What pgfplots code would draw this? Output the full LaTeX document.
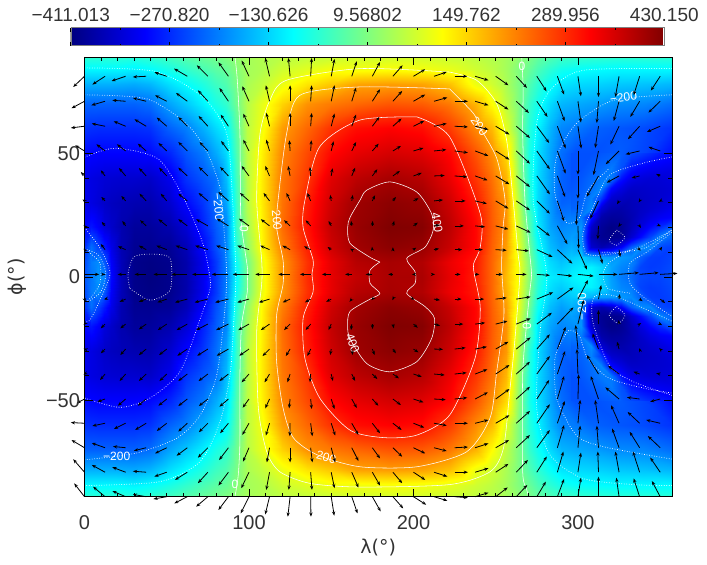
\documentclass[border=0pt]{standalone}
\usepackage{fontspec}
\setmainfont{Liberation Sans}
\newfontfamily\symb{DejaVu Sans}
\usepackage{pgfplots}
\usepackage{pgfplotstable}
\pgfplotsset{compat=1.18}
\usetikzlibrary{arrows.meta}
\pgfplotsset{colormap={idljet}{rgb255(0pt)=(0,0,128); rgb255(1pt)=(0,0,255); rgb255(3pt)=(0,255,255); rgb255(5pt)=(255,255,0); rgb255(7pt)=(255,0,0); rgb255(8pt)=(128,0,0)}}
\pgfplotstableread{
lon lat t
0 88.9 -60
0 84 -100
0 78 -160
0 70 -225
0 60 -265
0 50 -298
0 40 -320
0 30 -320
0 20 -300
0 12 -270
0 6 -250
0 0 -240
4 88.9 -60
4 84 -100
4 78 -160
4 70 -225
4 60 -268
4 50 -302
4 40 -330
4 30 -330
4 20 -290
4 12 -215
4 6 -205
4 0 -210
8 88.9 -60
8 84 -100
8 78 -160
8 70 -225
8 60 -270
8 50 -305
8 40 -335
8 30 -340
8 20 -310
8 12 -250
8 6 -190
8 0 -180
12 88.9 -60
12 84 -100
12 78 -160
12 70 -225
12 60 -270
12 50 -305
12 40 -340
12 30 -350
12 20 -335
12 12 -285
12 6 -230
12 0 -195
16 88.9 -60
16 84 -100
16 78 -160
16 70 -225
16 60 -270
16 50 -305
16 40 -342
16 30 -358
16 20 -350
16 12 -325
16 6 -310
16 0 -300
22 88.9 -60
22 84 -100
22 78 -162
22 70 -225
22 60 -270
22 50 -305
22 40 -345
22 30 -365
22 20 -372
22 12 -370
22 6 -365
22 0 -365
30 88.9 -65
30 84 -105
30 78 -165
30 70 -225
30 60 -270
30 50 -305
30 40 -345
30 30 -370
30 20 -388
30 12 -395
30 6 -402
30 0 -402
40 88.9 -55
40 84 -95
40 78 -155
40 70 -215
40 60 -265
40 50 -300
40 40 -350
40 30 -372
40 20 -388
40 12 -397
40 6 -407
40 0 -410
52 88.9 -40
52 84 -75
52 78 -120
52 70 -170
52 60 -225
52 50 -275
52 40 -320
52 30 -345
52 20 -372
52 12 -392
52 6 -400
52 0 -400
62 88.9 -25
62 84 -55
62 78 -95
62 70 -140
62 60 -200
62 50 -235
62 40 -265
62 30 -302
62 20 -340
62 12 -365
62 6 -375
62 0 -375
72 88.9 -10
72 84 -35
72 78 -70
72 70 -105
72 60 -160
72 50 -205
72 40 -235
72 30 -262
72 20 -280
72 12 -305
72 6 -320
72 0 -320
80 88.9 0
80 84 -20
80 78 -45
80 70 -75
80 60 -125
80 50 -165
80 40 -210
80 30 -215
80 20 -230
80 12 -240
80 6 -260
80 0 -260
86 88.9 10
86 84 -10
86 78 -30
86 70 -55
86 60 -100
86 50 -125
86 40 -150
86 30 -170
86 20 -195
86 12 -195
86 6 -200
86 0 -205
92 88.9 25
92 84 15
92 78 5
92 70 -5
92 60 -25
92 50 -35
92 40 -45
92 30 -55
92 20 -55
92 12 -70
92 6 -90
92 0 -100
99 88.9 40
99 84 40
99 78 45
99 70 55
99 60 60
99 50 60
99 40 55
99 30 55
99 20 40
99 12 25
99 6 0
99 0 0
108 88.9 50
108 84 50
108 78 65
108 70 95
108 60 105
108 50 125
108 40 130
108 30 130
108 20 125
108 12 120
108 6 100
108 0 100
120 88.9 60
120 84 75
120 78 100
120 70 150
120 60 195
120 50 215
120 40 225
120 30 230
120 20 235
120 12 220
120 6 200
120 0 200
135 88.9 65
135 84 90
135 78 135
135 70 205
135 60 240
135 50 265
135 40 280
135 30 302
135 20 310
135 12 300
135 6 285
135 0 290
150 88.9 70
150 84 105
150 78 160
150 70 225
150 60 285
150 50 320
150 40 350
150 30 365
150 20 375
150 12 365
150 6 345
150 0 345
165 88.9 75
165 84 105
165 78 190
165 70 240
165 60 315
165 50 345
165 40 380
165 30 405
165 20 410
165 12 402
165 6 385
165 0 375
185 88.9 78
185 84 110
185 78 195
185 70 255
185 60 325
185 50 360
185 40 398
185 30 420
185 20 430
185 12 420
185 6 398
185 0 395
205 88.9 78
205 84 105
205 78 190
205 70 250
205 60 315
205 50 350
205 40 385
205 30 410
205 20 425
205 12 410
205 6 390
205 0 395
222 88.9 70
222 84 95
222 78 165
222 70 225
222 60 275
222 50 320
222 40 340
222 30 365
222 20 380
222 12 370
222 6 340
222 0 345
238 88.9 60
238 84 75
238 78 100
238 70 175
238 60 210
238 50 255
238 40 280
238 30 305
238 20 320
238 12 320
238 6 305
238 0 300
248 88.9 50
248 84 60
248 78 75
248 70 115
248 60 170
248 50 205
248 40 230
248 30 245
248 20 250
248 12 245
248 6 240
248 0 240
256 88.9 40
256 84 40
256 78 45
256 70 60
256 60 90
256 50 145
256 40 175
256 30 200
256 20 205
256 12 195
256 6 180
256 0 170
264 88.9 20
264 84 10
264 78 5
264 70 5
264 60 5
264 50 15
264 40 25
264 30 50
264 20 70
264 12 90
264 6 100
264 0 105
270 88.9 5
270 84 -10
270 78 -30
270 70 -50
270 60 -65
270 50 -75
270 40 -70
270 30 -60
270 20 -25
270 12 -5
270 6 10
270 0 15
276 88.9 -15
276 84 -35
276 78 -60
276 70 -85
276 60 -105
276 50 -120
276 40 -125
276 30 -125
276 20 -115
276 12 -90
276 6 -70
276 0 -60
283 88.9 -30
283 84 -60
283 78 -90
283 70 -125
283 60 -155
283 50 -170
283 40 -175
283 30 -180
283 20 -170
283 12 -150
283 6 -125
283 0 -110
290 88.9 -45
290 84 -80
290 78 -115
290 70 -155
290 60 -195
290 50 -215
290 40 -225
290 30 -225
290 20 -195
290 12 -175
290 6 -145
290 0 -120
298 88.9 -50
298 84 -90
298 78 -125
298 70 -165
298 60 -205
298 50 -240
298 40 -240
298 30 -220
298 20 -185
298 12 -155
298 6 -125
298 0 -100
310 88.9 -55
310 84 -95
310 78 -130
310 70 -175
310 60 -225
310 50 -240
310 40 -220
310 30 -190
310 20 -350
310 12 -300
310 6 -130
310 0 -100
325 88.9 -60
325 84 -100
325 78 -140
325 70 -190
325 60 -235
325 50 -230
325 40 -250
325 30 -370
325 20 -400
325 12 -280
325 6 -190
325 0 -200
340 88.9 -60
340 84 -100
340 78 -145
340 70 -195
340 60 -245
340 50 -250
340 40 -325
340 30 -360
340 20 -320
340 12 -190
340 6 -225
340 0 -240
357.19 88.9 -60
357.19 84 -100
357.19 78 -155
357.19 70 -215
357.19 60 -265
357.19 50 -295
357.19 40 -325
357.19 30 -325
357.19 20 -260
357.19 12 -245
357.19 6 -248
357.19 0 -240
}\maintab
\pgfplotstableread{
lon lat t
296 50 -238
296 44 -240
296 40 -240
296 36 -235
296 32 -230
296 28 -225
296 24 -205
296 20 -190
296 16 -175
296 12 -160
296 8 -140
296 4 -120
296 0 -105
302 50 -240
302 44 -240
302 40 -235
302 36 -230
302 32 -225
302 28 -220
302 24 -205
302 20 -185
302 16 -190
302 12 -175
302 8 -130
302 4 -110
302 0 -95
308 50 -240
308 44 -230
308 40 -220
308 36 -215
308 32 -200
308 28 -190
308 24 -290
308 20 -350
308 16 -370
308 12 -345
308 8 -160
308 4 -105
308 0 -100
314 50 -235
314 44 -220
314 40 -205
314 36 -195
314 32 -260
314 28 -340
314 24 -375
314 20 -390
314 16 -395
314 12 -370
314 8 -175
314 4 -125
314 0 -130
320 50 -230
320 44 -205
320 40 -205
320 36 -300
320 32 -345
320 28 -370
320 24 -388
320 20 -405
320 16 -400
320 12 -350
320 8 -180
320 4 -170
320 0 -175
326 50 -230
326 44 -240
326 40 -290
326 36 -330
326 32 -355
326 28 -375
326 24 -385
326 20 -395
326 16 -395
326 12 -310
326 8 -180
326 4 -195
326 0 -205
332 50 -245
332 44 -290
332 40 -325
332 36 -350
332 32 -362
332 28 -365
332 24 -370
332 20 -365
332 16 -345
332 12 -230
332 8 -190
332 4 -205
332 0 -220
338 50 -255
338 44 -305
338 40 -335
338 36 -350
338 32 -355
338 28 -355
338 24 -350
338 20 -335
338 16 -300
338 12 -190
338 8 -225
338 4 -250
338 0 -245
344 50 -270
344 44 -315
344 40 -340
344 36 -347
344 32 -350
344 28 -345
344 24 -330
344 20 -300
344 16 -250
344 12 -195
344 8 -255
344 4 -258
344 0 -250
350 50 -285
350 44 -320
350 40 -340
350 36 -345
350 32 -345
350 28 -335
350 24 -315
350 20 -270
350 16 -195
350 12 -245
350 8 -258
350 4 -255
350 0 -250
357.19 50 -295
357.19 44 -325
357.19 40 -335
357.19 36 -340
357.19 32 -335
357.19 28 -320
357.19 24 -305
357.19 20 -230
357.19 16 -225
357.19 12 -255
357.19 8 -250
357.19 4 -245
357.19 0 -240
}\patchtab
\pgfplotstableread{
lon lat dx dy
0 81.1 -11.3 -10.7
12.5 81.1 -12.7 -8.3
25 81.1 -14 -4.7
37.5 81.1 -13.3 -0.7
50 81.1 -12.3 4
62.5 81.1 -13.3 7.7
75 81.1 -11 11
87.5 81.1 -10 14
100 81.1 -7.3 15.7
112.5 81.1 -4.3 18.3
125 81.1 -1.7 18.3
137.5 81.1 1 18.3
150 81.1 3.3 17.3
162.5 81.1 5 15
175 81.1 7.7 14.3
187.5 81.1 9.7 11
200 81.1 11.7 7
212.5 81.1 12.7 4.3
225 81.1 12.7 0
237.5 81.1 13.3 -4
250 81.1 12.7 -9
262.5 81.1 10.7 -11.7
275 81.1 9.7 -15
287.5 81.1 6.7 -18.3
300 81.1 3 -20
312.5 81.1 0 -20.7
325 81.1 -3.7 -20.7
337.5 81.1 -6 -19
350 81.1 -9.3 -14.3
0 71 -13 -7
12.5 71 -13.7 -4
25 71 -13.3 1
37.5 71 -13.3 3.3
50 71 -11.7 6
62.5 71 -11.3 8.3
75 71 -10 11
87.5 71 -9 13.3
100 71 -6.7 15
112.5 71 -3.7 16
125 71 0 16
137.5 71 1 16
150 71 3.3 16
162.5 71 4.3 13.7
175 71 7.7 12
187.5 71 9.3 10.3
200 71 11.7 6.7
212.5 71 13.3 3.7
225 71 13.3 0
237.5 71 13.3 -4
250 71 12.7 -8.3
262.5 71 12.7 -11.7
275 71 10.7 -15.7
287.5 71 7.3 -20
300 71 3 -21.3
312.5 71 -1.7 -21.7
325 71 -5.3 -19.7
337.5 71 -9.3 -15.7
350 71 -11.7 -11.3
0 60.9 -13.7 -1.7
12.5 60.9 -13.3 2.7
25 60.9 -12 5
37.5 60.9 -11.7 7
50 60.9 -10 8.7
62.5 60.9 -9 9.3
75 60.9 -9.3 10.3
87.5 60.9 -7.7 11.7
100 60.9 -5.7 12.7
112.5 60.9 -3.3 13.3
125 60.9 0 13.3
137.5 60.9 1 13.3
150 60.9 3.3 12.7
162.5 60.9 4.3 11.7
175 60.9 7 9.3
187.5 60.9 8.7 7.7
200 60.9 10.7 5.3
212.5 60.9 12.7 2.7
225 60.9 13.3 -0.7
237.5 60.9 13.3 -3.3
250 60.9 13.7 -8.3
262.5 60.9 13.7 -11.7
275 60.9 12.3 -16.7
287.5 60.9 8.3 -22.3
300 60.9 3.3 -22.3
312.5 60.9 -3.3 -21.7
325 60.9 -8.7 -18.3
337.5 60.9 -11.7 -13
350 60.9 -13.3 -5.7
0 50.9 -9.3 5.7
12.5 50.9 -8.7 6.7
25 50.9 -8.7 6.7
37.5 50.9 -8.3 7.3
50 50.9 -8.3 8
62.5 50.9 -9 9
75 50.9 -8.3 9
87.5 50.9 -7.3 10
100 50.9 -5.7 11.3
112.5 50.9 -3.3 11.3
125 50.9 -0.7 10.7
137.5 50.9 0.7 10.7
150 50.9 2.3 9.7
162.5 50.9 4.3 9
175 50.9 6.3 7.3
187.5 50.9 8 5
200 50.9 10 3
212.5 50.9 12.3 1.3
225 50.9 13.3 -1.7
237.5 50.9 13.3 -5
250 50.9 13.7 -8.7
262.5 50.9 13.7 -12.7
275 50.9 13 -18.3
287.5 50.9 8.3 -22.7
300 50.9 0 -23.7
312.5 50.9 -5 -24
325 50.9 -13.3 -13.3
337.5 50.9 -14 -3.3
350 50.9 -11.7 4
0 40.8 -3.7 4
12.5 40.8 -4.3 5.7
25 40.8 -6.7 8
37.5 40.8 -7.3 8
50 40.8 -7.7 8.3
62.5 40.8 -9 8.3
75 40.8 -9 9
87.5 40.8 -8.3 9
100 40.8 -7.3 10
112.5 40.8 -4.3 10
125 40.8 -2 10
137.5 40.8 -0.7 9
150 40.8 1.3 7.7
162.5 40.8 3.3 8.3
175 40.8 5 6.7
187.5 40.8 7 5
200 40.8 8.3 3
212.5 40.8 10.7 0.5
225 40.8 12.7 -1
237.5 40.8 12.3 -4.3
250 40.8 13.7 -8.3
262.5 40.8 13.7 -11
275 40.8 13 -18.3
287.5 40.8 7.7 -21
300 40.8 0 -22.7
312.5 40.8 -11.7 -20.7
325 40.8 -12.3 -6.7
337.5 40.8 -8 -2
350 40.8 -4 2
0 30.7 -2 1.5
12.5 30.7 -3.7 4
25 30.7 -4.3 5
37.5 30.7 -6.7 7.3
50 30.7 -6 7.3
62.5 30.7 -9 7.3
75 30.7 -9.3 8
87.5 30.7 -10 9
100 30.7 -9 8
112.5 30.7 -6 8
125 30.7 -3.7 8
137.5 30.7 -3.3 8
150 30.7 -1 6
162.5 30.7 1 6
175 30.7 2.7 5.7
187.5 30.7 3 4
200 30.7 5 2.7
212.5 30.7 9 1
225 30.7 11 0
237.5 30.7 11.7 -2.7
250 30.7 12.7 -7.7
262.5 30.7 13.7 -9.3
275 30.7 13 -12.7
287.5 30.7 6.7 -20.3
300 30.7 -1.7 -24.3
312.5 30.7 -8.3 -17.7
325 30.7 -2 -3.3
337.5 30.7 -1 -1.5
350 30.7 -1.5 -0.7
0 20.6 -1 1
12.5 20.6 -3.3 4
25 20.6 -3.3 5
37.5 20.6 -6 5.7
50 20.6 -8.3 6.7
62.5 20.6 -9 6.7
75 20.6 -11.7 6.7
87.5 20.6 -11.7 7.3
100 20.6 -10 7.3
112.5 20.6 -8.7 6.7
125 20.6 -6 5.7
137.5 20.6 -5 5.7
150 20.6 -2.7 5
162.5 20.6 -0.7 5
175 20.6 0.3 5
187.5 20.6 1.3 5
200 20.6 4.3 3.3
212.5 20.6 6 1
225 20.6 9.3 0
237.5 20.6 10 -1
250 20.6 12.7 -3.3
262.5 20.6 14.3 -6.7
275 20.6 13 -10
287.5 20.6 10 -18.3
300 20.6 0.7 -22.7
312.5 20.6 -0.7 -13.3
325 20.6 -0.7 -1
337.5 20.6 1.3 -2
350 20.6 0.7 -0.3
0 11 -1 1
12.5 11 -4.3 5.7
25 11 -7.7 3.3
37.5 11 -7.3 4
50 11 -10.3 4
62.5 11 -11.7 4
75 11 -12.7 4
87.5 11 -12.3 4
100 11 -11.7 4
112.5 11 -9.3 4
125 11 -7.7 4
137.5 11 -6.7 3.3
150 11 -3.7 2.7
162.5 11 -1.7 1
175 11 -0.3 3
187.5 11 0 2.5
200 11 2.7 2
212.5 11 5 1
225 11 7.7 0
237.5 11 7.7 0
250 11 11 -0.7
262.5 11 12.7 -1.3
275 11 15.7 -7.3
287.5 11 15 -14
300 11 9 -20
312.5 11 4 -14
325 11 1.3 -7.3
337.5 11 1 -1
350 11 2 3
0 1 14.7 0
12.5 1 0.3 0
25 1 -8 0
37.5 1 -11.7 0
50 1 -13.3 0
62.5 1 -15.7 0
75 1 -15.7 0
87.5 1 -16.7 0
100 1 -16.3 0
112.5 1 -14.3 0
125 1 -11.7 0
137.5 1 -10.7 0
150 1 -9.3 0
162.5 1 -6.7 0
175 1 -6.7 0
187.5 1 -4.7 0
200 1 -1.5 0
212.5 1 1 0
225 1 6 0
237.5 1 4.3 0
250 1 7 0
262.5 1 10.3 0
275 1 13 -1
287.5 1 15 -1.7
300 1 15.7 -1.7
312.5 1 19 0
325 1 19.7 1.7
337.5 1 19 1.7
350 1 17.3 1
0 -9 1 -3
12.5 -9 -1 -0.3
25 -9 -6 -2.7
37.5 -9 -7.3 -2.7
50 -9 -9.3 -3.3
62.5 -9 -12.3 -3.3
75 -9 -13.3 -3.3
87.5 -9 -13.3 -3.3
100 -9 -11.7 -3.3
112.5 -9 -10.7 -3.3
125 -9 -7.3 -3.3
137.5 -9 -5.7 -3.3
150 -9 -5 -2.7
162.5 -9 -2.3 -2.7
175 -9 -1 -1
187.5 -9 -0.5 -1
200 -9 1 -0.5
212.5 -9 6 -1
225 -9 7 0
237.5 -9 9 0
250 -9 11 1.3
262.5 -9 14.3 2.3
275 -9 16.3 6.7
287.5 -9 16 11.7
300 -9 10 19
312.5 -9 2.7 14
325 -9 0.7 5
337.5 -9 3 -2
350 -9 5 -4
0 -19.1 -1 -1
12.5 -19.1 -4.3 -4.3
25 -19.1 -5.3 -4.3
37.5 -19.1 -7.3 -5.3
50 -19.1 -9 -6
62.5 -19.1 -10.7 -6
75 -19.1 -11.7 -6
87.5 -19.1 -12.3 -6
100 -19.1 -10.7 -6
112.5 -19.1 -8.7 -6
125 -19.1 -6 -6
137.5 -19.1 -5 -6
150 -19.1 -2.7 -6
162.5 -19.1 -0.7 -6
175 -19.1 0.3 -5
187.5 -19.1 1 -4.3
200 -19.1 4.3 -3.7
212.5 -19.1 6 -1.7
225 -19.1 8.7 0
237.5 -19.1 10 1.3
250 -19.1 11.7 3
262.5 -19.1 14.3 5.7
275 -19.1 15 11.3
287.5 -19.1 16 16.7
300 -19.1 5.7 24
312.5 -19.1 0 14
325 -19.1 -0.5 4
337.5 -19.1 1.5 1
350 -19.1 2 -1
0 -29.2 -1 0.3
12.5 -29.2 -4.3 -4.3
25 -29.2 -5.3 -6
37.5 -29.2 -7.3 -6
50 -29.2 -7.7 -6
62.5 -29.2 -10 -6.7
75 -29.2 -10.7 -6.7
87.5 -29.2 -11.7 -6.7
100 -29.2 -9.7 -6.7
112.5 -29.2 -7 -7
125 -29.2 -4.3 -7
137.5 -29.2 -3.3 -7
150 -29.2 -1 -6
162.5 -29.2 1 -6
175 -29.2 2.3 -6
187.5 -29.2 3 -4.3
200 -29.2 5 -3.3
212.5 -29.2 9 -0.3
225 -29.2 11 1.3
237.5 -29.2 11.7 2.3
250 -29.2 12.7 7.3
262.5 -29.2 14.3 11.7
275 -29.2 13 14.7
287.5 -29.2 8.3 22.3
300 -29.2 -2.3 24
312.5 -29.2 -6 15.7
325 -29.2 -2 7.3
337.5 -29.2 -0.3 1
350 -29.2 -1 1
0 -39.3 -1 -0.5
12.5 -39.3 -5 -6
25 -39.3 -6 -7
37.5 -39.3 -7.3 -7
50 -39.3 -7.3 -7
62.5 -39.3 -9 -7
75 -39.3 -9.3 -7
87.5 -39.3 -9 -7
100 -39.3 -7.3 -8.3
112.5 -39.3 -5 -8.3
125 -39.3 -2.7 -8.3
137.5 -39.3 -0.7 -8.3
150 -39.3 1.7 -7
162.5 -39.3 3.3 -7
175 -39.3 5 -5
187.5 -39.3 6 -4.3
200 -39.3 8.3 -2.7
212.5 -39.3 10.7 -1
225 -39.3 12 1.3
237.5 -39.3 12.3 4.7
250 -39.3 13.7 9
262.5 -39.3 13.7 12.3
275 -39.3 13 18
287.5 -39.3 7.7 23
300 -39.3 -1 25
312.5 -39.3 -11.7 19
325 -39.3 -11 8.3
337.5 -39.3 -6 2.3
350 -39.3 -4 0.7
0 -49.4 -8 -4.3
12.5 -49.4 -7.7 -2.7
25 -49.4 -7.7 -6.7
37.5 -49.4 -8.3 -6.7
50 -49.4 -8.3 -6.7
62.5 -49.4 -9 -7
75 -49.4 -9 -7
87.5 -49.4 -9 -7.7
100 -49.4 -6.3 -8.7
112.5 -49.4 -4.3 -9.3
125 -49.4 -1 -9.3
137.5 -49.4 1 -10
150 -49.4 3.3 -10
162.5 -49.4 5 -9
175 -49.4 6 -6.7
187.5 -49.4 8 -6
200 -49.4 10 -3.3
212.5 -49.4 11.7 -0.7
225 -49.4 12.7 1.3
237.5 -49.4 12.7 6.7
250 -49.4 13.7 10
262.5 -49.4 13.7 12.3
275 -49.4 12.3 19
287.5 -49.4 6.7 23
300 -49.4 0.7 24.7
312.5 -49.4 -7.7 23
325 -49.4 -13.7 11.7
337.5 -49.4 -12.7 1.7
350 -49.4 -10 -2.7
0 -59.2 -13.7 0.7
12.5 -59.2 -12.7 -2.7
25 -59.2 -11.7 -5.7
37.5 -59.2 -11 -6.7
50 -59.2 -10 -7.7
62.5 -59.2 -9 -8.3
75 -59.2 -9 -9
87.5 -59.2 -8.3 -10
100 -59.2 -6.7 -11.7
112.5 -59.2 -3.7 -12.3
125 -59.2 -0.3 -13
137.5 -59.2 1.7 -13
150 -59.2 4 -12.3
162.5 -59.2 6.7 -11.7
175 -59.2 7.7 -10
187.5 -59.2 8.7 -6.7
200 -59.2 10.7 -4.3
212.5 -59.2 12.7 -2.3
225 -59.2 13.3 0
237.5 -59.2 13.3 3.3
250 -59.2 13.7 8
262.5 -59.2 13.7 12.3
275 -59.2 13 19
287.5 -59.2 7.3 22.3
300 -59.2 2.3 23.3
312.5 -59.2 -3.3 23.3
325 -59.2 -8 18
337.5 -59.2 -12 11.3
350 -59.2 -14 3.3
0 -69.1 -13 7.7
12.5 -69.1 -13.3 4.7
25 -69.1 -12.7 1.3
37.5 -69.1 -12.3 -3
50 -69.1 -11.7 -5.7
62.5 -69.1 -10.7 -8
75 -69.1 -10 -10
87.5 -69.1 -9.3 -12.3
100 -69.1 -6 -14
112.5 -69.1 -2.7 -14.7
125 -69.1 0 -14.7
137.5 -69.1 1.7 -14.7
150 -69.1 4 -14.7
162.5 -69.1 6.7 -13.3
175 -69.1 7.7 -10.7
187.5 -69.1 9.3 -9
200 -69.1 11.7 -5.7
212.5 -69.1 12.7 -3.3
225 -69.1 13.3 0.7
237.5 -69.1 13.3 4.3
250 -69.1 13.3 7.7
262.5 -69.1 13.7 12.7
275 -69.1 13 17.7
287.5 -69.1 6.7 22.7
300 -69.1 2.3 22
312.5 -69.1 -1.7 22
325 -69.1 -7 19.3
337.5 -69.1 -10 16
350 -69.1 -12.3 11.7
0 -79 -11.3 13
12.5 -79 -13.3 7.3
25 -79 -13.3 5
37.5 -79 -13.3 1
50 -79 -12.3 -4.3
62.5 -79 -12.3 -7.7
75 -79 -10 -11
87.5 -79 -10 -13.3
100 -79 -7.7 -16
112.5 -79 -3.3 -17.7
125 -79 -1.3 -17.7
137.5 -79 1.3 -17.7
150 -79 3.3 -16
162.5 -79 6.7 -15.3
175 -79 7.7 -13.3
187.5 -79 9.3 -11
200 -79 11.7 -7.7
212.5 -79 13.3 -4.3
225 -79 13.3 0
237.5 -79 13.3 4
250 -79 12.7 8.3
262.5 -79 11.7 12.3
275 -79 10 15.7
287.5 -79 6 20.7
300 -79 3 19.7
312.5 -79 -0.7 20.7
325 -79 -3.7 20.7
337.5 -79 -6.7 20.7
350 -79 -10 14.7
0 -88.9 -10.3 13.3
12.5 -88.9 -12 10
25 -88.9 -13.3 5.7
37.5 -88.9 -13.3 2.3
50 -88.9 -13.3 -2.3
62.5 -88.9 -13 -6.7
75 -88.9 -11.7 -10
87.5 -88.9 -10 -13.3
100 -88.9 -8.3 -16.7
112.5 -88.9 -4.3 -17.7
125 -88.9 -2.3 -20
137.5 -88.9 0.3 -20
150 -88.9 3 -19
162.5 -88.9 5.7 -16.7
175 -88.9 8.3 -14.7
187.5 -88.9 10.3 -11.7
200 -88.9 12.7 -8
212.5 -88.9 13.3 -4
225 -88.9 13.3 -1
237.5 -88.9 13.3 4
250 -88.9 12 9.3
262.5 -88.9 11 11.7
275 -88.9 9 15
287.5 -88.9 6.7 17.7
300 -88.9 3 19
312.5 -88.9 0 20
325 -88.9 -2.7 19
337.5 -88.9 -6 18.3
350 -88.9 -8.3 15.7
}\windtab
\pgfplotstableread{
v y t
-411.013 0 -411.013
-411.013 1 -411.013
-305.9 0 -305.9
-305.9 1 -305.9
-95.7 0 -95.7
-95.7 1 -95.7
114.5 0 114.5
114.5 1 114.5
324.6 0 324.6
324.6 1 324.6
430.15 0 430.15
430.15 1 430.15
}\bartab
\pgfplotsset{ccs/.style={white,line width=0.55pt,forget plot,smooth,tension=0.45},ccd/.style={white,line width=0.7pt,dash pattern=on 0.7pt off 1.8pt,forget plot,smooth,tension=0.45}}
\tikzset{cl/.style={white,font=\fontsize{12}{12}\selectfont,inner sep=0pt}}
\begin{document}
\begin{tikzpicture}
\useasboundingbox (0,0) rectangle (707pt,565pt);
\begin{axis}[at={(70.7pt,519.3pt)},anchor=south west,scale only axis,width=593.6pt,height=18pt,
 xmin=-411.013,xmax=430.15,ymin=0,ymax=1,ytick=\empty,
 xtick={-411.013,-270.82,-130.626,9.56802,149.762,289.956,430.15},
 xticklabels={−411.013,−270.820,−130.626,9.56802,149.762,289.956,430.150},
 minor xtick={-340.9,-200.7,-60.5,79.7,219.9,360.1},
 xticklabel pos=upper,tick align=inside,major tick length=4pt,minor tick length=2pt,
 x tick label style={font=\fontsize{19}{22}\selectfont,text=black!80,yshift=2pt},
 axis line style={black!50},tick style={black,line width=0.5pt},
 colormap name=idljet,point meta min=-411.013,point meta max=430.15,axis on top,clip=true]
\addplot[surf,shader=interp,mesh/ordering=y varies,mesh/rows=2,mesh/cols=6,point meta=\thisrow{t}] table[x=v,y=y] \bartab;
\addplot[black,line width=1.4pt,forget plot] coordinates {(-410.4,0)(-410.4,1)};
\addplot[white,line width=1.6pt,forget plot] coordinates {(429.4,0)(429.4,1)};
\end{axis}
\begin{axis}[at={(84.5pt,68.3pt)},anchor=south west,scale only axis,width=587.5pt,height=439.7pt,
 xmin=0,xmax=357.19,ymin=-88.9,ymax=88.9,clip=false,axis on top,
 xtick={0,100,200,300},xticklabels={0,100,200,300},minor x tick num=9,
 ytick={-50,0,50},yticklabels={−50,0,50},minor y tick num=4,
 tick align=inside,major tick length=8pt,minor tick length=4pt,tick style={black,line width=0.6pt},
 x tick label style={font=\fontsize{20}{22}\selectfont,text=black!80,yshift=-15pt},
 y tick label style={font=\fontsize{20}{22}\selectfont,text=black!80,xshift=-1pt},
 xlabel={{\symb λ(°)}},ylabel={{\symb ϕ(°)}},
 xlabel style={font=\fontsize{19}{22}\selectfont,text=black!80,at={(axis description cs:0.5,-0.115)},anchor=center},
 ylabel style={font=\fontsize{19}{22}\selectfont,text=black!80,at={(axis description cs:-0.114,0.5)},anchor=center},
 colormap name=idljet,point meta min=-411.013,point meta max=430.15]
\addplot[surf,shader=interp,mesh/ordering=y varies,mesh/rows=12,mesh/cols=36,point meta=\thisrow{t},forget plot] table[x=lon,y=lat] \maintab;
\addplot[surf,shader=interp,mesh/ordering=y varies,mesh/rows=12,mesh/cols=36,point meta=\thisrow{t},forget plot] table[x=lon,y expr=-\thisrow{lat}] \maintab;
\addplot[surf,shader=interp,mesh/ordering=y varies,mesh/rows=13,mesh/cols=11,point meta=\thisrow{t},forget plot] table[x=lon,y=lat] \patchtab;
\addplot[surf,shader=interp,mesh/ordering=y varies,mesh/rows=13,mesh/cols=11,point meta=\thisrow{t},forget plot] table[x=lon,y expr=-\thisrow{lat}] \patchtab;
% contours
\addplot[ccs] coordinates {(91.5,88.9)(92.9,79.5)(94.5,57.9)(94.8,31)(95.5,20.2)(99,4)(99,1)(99,-6)(95.5,-19.5)(94.5,-39.7)(94.5,-66)(93.5,-80)(91.5,-88.9)};
\addplot[ccs] coordinates {(265.8,88.9)(266.7,76)(266.4,58)(267.8,31)(270.7,9.4)(271.8,1)(270.7,-6)(268.7,-19.5)(266.4,-39.7)(266.4,-78.8)(268.7,-85.6)(270,-88.9)};
\addplot[ccs] coordinates {(222,82.8)(167.5,84.2)(122.8,79.5)(112.7,71.4)(106.7,57.9)(104.7,31)(107.7,6.8)(107.7,-3)(104.7,-22)(105.7,-53)(110.8,-70.7)(118.7,-78.8)(137,-83.5)(167.5,-85)(222,-84)(246.6,-78.8)(254.7,-69.3)(258.5,-46.5)(261.6,-26)(264.7,1)(263.6,9.4)(260.6,31)(256.7,55)(250.6,70)(238.4,79.5)(222,82.8)};
\addplot[ccs] coordinates {(222,76)(167.5,76.8)(130.9,73.4)(122.9,58)(117.7,31)(116.8,20)(120.7,6.8)(120.7,-3)(116.8,-15.5)(116.8,-34.3)(120.7,-53)(126.9,-65)(141.6,-72)(167.5,-76.8)(202,-76.8)(232.4,-70.7)(246.6,-57)(250.6,-38.4)(255,-15.5)(253.6,4)(254.5,20)(255.7,31)(250.6,48)(240,60.9)(236.6,66)(222,76)};
\addplot[ccs] coordinates {(202,64.7)(222,56.6)(240.6,25.6)(240.6,12)(236.6,5.4)(237,1)(240.6,-12.7)(237.4,-33)(222,-55.9)(202,-64)(181.7,-65)(161.4,-62)(143,-49)(134,-33)(132.9,-16.8)(139,-6)(138.3,1)(139,6.8)(132.9,20)(134,31)(143,52.6)(167.5,63.4)(202,64.7)};
\addplot[ccs] coordinates {(179.6,6)(173.6,7.9)(161.4,13.6)(160,20)(161.4,24)(167.5,31)(171.5,35)(185.7,38.4)(202,34.3)(211,25.6)(212,18.9)(207,12)(195.9,7.5)(201,2)(201,-2.6)(195.9,-6.7)(207,-12)(212.8,-16.8)(211,-25)(202,-34.3)(185.7,-38.4)(171.5,-35)(161.4,-25)(160,-20)(161.4,-14)(173.6,-9)(179.6,-6.7)(173.6,-2.6)(173.6,2.7)(179.6,6)};
\addplot[ccd] coordinates {(0,84.5)(43.6,83)(72,72.7)(86.4,58)(90,31)(92,1)(90.4,-22)(88.5,-39.7)(82.4,-58.6)(70.3,-74.7)(45.9,-82.8)(0,-84.4)};
\addplot[ccd] coordinates {(357.19,84.2)(303,83.5)(283,75.4)(274.9,62)(272.8,31)(281,1)(277,-22)(274.9,-53)(283,-72)(303,-81.5)(333.6,-84)(357.19,-84.4)};
\addplot[ccd] coordinates {(0,73.6)(37.7,72)(61.8,62)(74,51)(82.4,36)(85,17.6)(86.4,1)(85.4,-13)(80.4,-39.7)(70.3,-56)(56,-65.3)(30.6,-71.4)(0,-74)};
\addplot[ccd] coordinates {(0,48.4)(18.6,52)(45,47.6)(61,31)(72,13.4)(76,1)(76.3,-5)(70.3,-17)(58,-38.4)(39.8,-49)(21.6,-52.8)(0,-49)};
\addplot[ccd] coordinates {(27.6,-4.7)(39.8,-9.4)(52,-5.4)(52,7.5)(39.8,9.2)(30,8)(26.4,1)(27.6,-4.7)};
\addplot[ccd] coordinates {(0,20)(2.3,18)(9.4,11.6)(15.5,1.5)(9.4,-9.4)(3.3,-17.5)(0,-18)};
\addplot[ccd] coordinates {(1.5,11)(5.4,10)(9.4,8)(13,1.5)(10.5,-5.4)(5.4,-8.7)(1.5,-10)(4.4,-8)(9.4,-2.6)(9.4,5.5)(4.4,9)(1.5,11)};
\addplot[ccd] coordinates {(357.19,73.6)(321.6,71.4)(299,62)(287,48.5)(286,33.7)(293,22)(301,24)(306,35)(319,43.8)};
\addplot[ccd] coordinates {(357.19,48.5)(339.7,46)(319,41)(309,28)(303,17.5)(305,9.5)(315,8.8)(335.7,11.5)(357.19,18.9)};
\addplot[ccd] coordinates {(357.19,18)(341.8,10)(331.6,5.5)(331.6,-2.6)(340.7,-8.6)(357.19,-16)};
\addplot[ccd] coordinates {(313,10)(327.7,10)(341.8,12)(357.19,19)};
\addplot[ccd] coordinates {(331.6,10.8)(319.4,6)(315.3,1.4)(318,-4.6)(331.6,-6.6)};
\addplot[ccd] coordinates {(357.19,-73.7)(315.5,-68.7)(299,-64)(287,-49)(286,-33)(291,-25)(295,-21.5)(301,-24)(306,-33)(319,-41)(340,-45)(357.19,-47)};
\addplot[ccd] coordinates {(357.19,-47.9)(333.6,-42.4)(319,-35.7)(309,-18)(310,-8)(323.5,-8)(357.19,-18)};
\addplot[ccd] coordinates {(323.5,18.9)(328.6,16)(323.5,12.8)(319,14.8)(323.5,18.9)};
\addplot[ccd] coordinates {(323.5,-12)(328.6,-15.5)(324.5,-18.8)(319,-15.5)(323.5,-12)};
% contour labels
\node[cl,rotate=-85] at (axis cs:81.4,28.3) {−200};
\node[cl,rotate=-90] at (axis cs:97,19.6) {0};
\node[cl,rotate=-85] at (axis cs:117,22.9) {200};
\node[cl,rotate=-80] at (axis cs:214.4,21.8) {400};
\node[cl,rotate=-55] at (axis cs:240,60.9) {200};
\node[cl] at (axis cs:266,85.3) {0};
\node[cl,rotate=8] at (axis cs:327.7,72.7) {−200};
\node[cl] at (axis cs:19.6,-72.4) {−200};
\node[cl] at (axis cs:91.5,-83.8) {0};
\node[cl,rotate=-15] at (axis cs:147,-73) {200};
\node[cl,rotate=-70] at (axis cs:163,-26.8) {400};
\node[cl,rotate=90] at (axis cs:269,-20) {0};
\node[cl,rotate=90] at (axis cs:302.5,-12) {−200};
% wind vectors
\addplot[black,line width=0.8pt,forget plot,
 quiver={u=\thisrow{dx}/1.6448,v=\thisrow{dy}/2.475,every arrow/.append style={-{Stealth[length=4.2pt,width=3.2pt]}}}]
 table[x=lon,y=lat] \windtab;
\end{axis}
\end{tikzpicture}
\end{document}
